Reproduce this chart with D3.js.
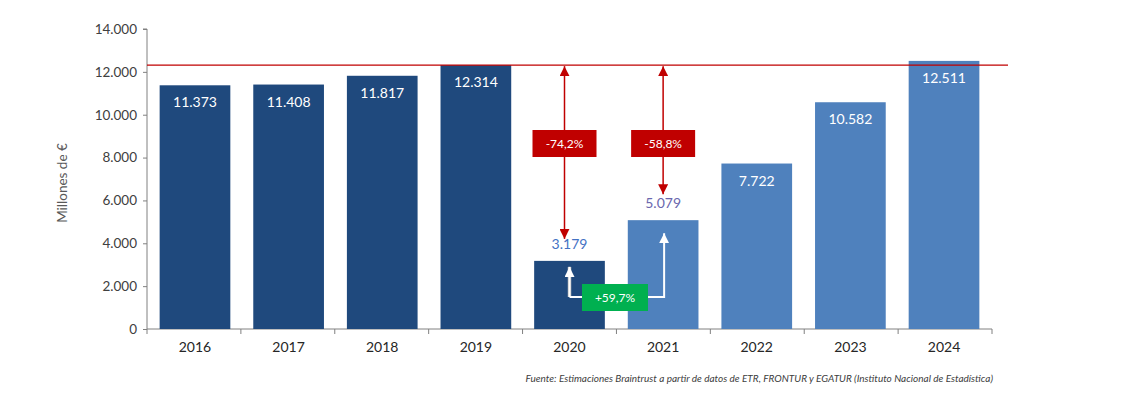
<!DOCTYPE html>
<html><head><meta charset="utf-8">
<script src="https://cdn.jsdelivr.net/npm/d3@7"></script>
<style>body{margin:0;background:#fff}svg{display:block}text{font-family:Lato,"Open Sans",sans-serif}</style>
</head><body>
<svg id="c" width="1134" height="395"></svg>
<script>
const years = ["2016","2017","2018","2019","2020","2021","2022","2023","2024"];
const values = [11373,11408,11817,12314,3179,5079,7722,10582,12511];
const labels = ["11.373","11.408","11.817","12.314","3.179","5.079","7.722","10.582","12.511"];
const yTicks = [0,2000,4000,6000,8000,10000,12000,14000];
const darkYears = ["2016","2017","2018","2019","2020"];
const refValue = 12314;
const changes = [{from:"2019",to:"2020",text:"-74,2%"},{from:"2019",to:"2021",text:"-58,8%"}];
const growth = {from:"2020",to:"2021",text:"+59,7%"};

const svg = d3.select("#c");
const x = d3.scaleBand().domain(years).range([147,992]).paddingInner(0.245).paddingOuter(0.135);
const y = d3.scaleLinear().domain([0,14000]).range([329,29]);
const fmt = v => d3.format(",")(v).replace(/,/g,".");

// axes
const ya = svg.append("g").attr("transform","translate(147,0)").call(d3.axisLeft(y).tickValues(yTicks).tickFormat(fmt).tickSize(4).tickPadding(6));
ya.select(".domain").attr("stroke","#808080").attr("d","M-4,"+y(14000)+"H0V"+y(0));
ya.selectAll(".tick line").attr("stroke","#808080");
ya.selectAll("text").attr("fill","#404040").style("font-size","13.5px");

const xa = svg.append("g").attr("transform","translate(0,329)");
xa.append("line").attr("x1",147).attr("x2",992).attr("stroke","#808080");
const step = x.step();
const bounds = d3.range(years.length+1).map(i => 147 + i*(992-147)/years.length);
xa.selectAll("line.t").data(bounds).enter().append("line").attr("class","t")
  .attr("x1",d=>d).attr("x2",d=>d).attr("y1",0).attr("y2",5).attr("stroke","#808080");
xa.selectAll("text").data(years).enter().append("text")
  .attr("x",d=>x(d)+x.bandwidth()/2).attr("y",23).attr("text-anchor","middle")
  .attr("fill","#262626").style("font-size","14px").text(d=>d);

// bars
const data = years.map((yr,i)=>({yr,v:values[i],l:labels[i]}));
svg.selectAll("rect.bar").data(data).enter().append("rect").attr("class","bar")
  .attr("x",d=>x(d.yr)).attr("width",x.bandwidth())
  .attr("y",d=>y(d.v)).attr("height",d=>y(0)-y(d.v))
  .attr("fill",d=>darkYears.includes(d.yr)?"#1F497D":"#4F81BD");

// ref line
svg.append("line").attr("x1",147).attr("x2",1008).attr("y1",y(refValue)).attr("y2",y(refValue))
  .attr("stroke","#C00000").attr("stroke-width",1.3);

// labels
svg.selectAll("text.val").data(data).enter().append("text").attr("class","val")
  .attr("x",d=>x(d.yr)+x.bandwidth()/2)
  .attr("y",d=> d.v>7000 ? y(d.v)+22 : y(d.v)-12)
  .attr("text-anchor","middle").style("font-size","14px")
  .attr("fill",d=> d.v>7000 ? "#fff" : (d.yr==="2020" ? "#4472C4" : "#6A67AE"))
  .text(d=>d.l);

const defs = svg.append("defs");
function marker(id,color){
  defs.append("marker").attr("id",id).attr("viewBox","0 0 10 10").attr("refX",10).attr("refY",5)
   .attr("markerWidth",10).attr("markerHeight",10).attr("markerUnits","userSpaceOnUse").attr("orient","auto")
   .append("path").attr("d","M0,0L10,5L0,10Z").attr("fill",color);
}
marker("ar","#C00000"); marker("aw","#fff");

// red change arrows
const yTop = y(refValue);
changes.forEach((c,i)=>{
  const v = values[years.indexOf(c.to)];
  const cx = x(c.to)+x.bandwidth()/2 + (i===0?-5:0);
  const yEnd = y(v) - (i===0?22:26);
  svg.append("line").attr("x1",cx).attr("x2",cx).attr("y1",143).attr("y2",yTop+1)
    .attr("stroke","#C00000").attr("stroke-width",1.5).attr("marker-end","url(#ar)");
  svg.append("line").attr("x1",cx).attr("x2",cx).attr("y1",143).attr("y2",yEnd)
    .attr("stroke","#C00000").attr("stroke-width",1.5).attr("marker-end","url(#ar)");
  svg.append("rect").attr("x",cx-32).attr("y",130).attr("width",64).attr("height",27).attr("fill","#C00000");
  svg.append("text").attr("x",cx).attr("y",148).attr("text-anchor","middle").attr("fill","#fff")
    .style("font-size","12px").text(c.text);
});

// growth arrow
const gx1 = x(growth.from)+x.bandwidth()/2, gx2 = x(growth.to)+x.bandwidth()/2+1;
const gy = 297;
svg.append("path").attr("d",`M${gx1},${gy}V${y(values[4])+6}`).attr("fill","none")
  .attr("stroke","#bbb").attr("stroke-width",3.5);
svg.append("path").attr("d",`M${gx1},${gy}V${y(values[4])+6}`).attr("fill","none")
  .attr("stroke","#fff").attr("stroke-width",2).attr("marker-end","url(#aw)");
svg.append("path").attr("d",`M${gx1},${gy}H${gx2}V${y(values[5])+13}`).attr("fill","none")
  .attr("stroke","#fff").attr("stroke-width",2).attr("marker-end","url(#aw)");
svg.append("rect").attr("x",582).attr("y",284).attr("width",66).attr("height",27).attr("fill","#00B050");
svg.append("text").attr("x",615).attr("y",302).attr("text-anchor","middle").attr("fill","#fff")
  .style("font-size","12px").text(growth.text);

// y title
svg.append("text").attr("transform","translate(67,183) rotate(-90)").attr("text-anchor","middle")
  .attr("fill","#595959").style("font-size","13.5px").text("Millones de €");

// source
svg.append("text").attr("x",993).attr("y",382).attr("text-anchor","end").attr("fill","#404040")
  .style("font-size","10px").style("font-style","italic")
  .text("Fuente: Estimaciones Braintrust a partir de datos de ETR, FRONTUR y EGATUR  (Instituto Nacional de Estadística)");
</script>
</body></html>
